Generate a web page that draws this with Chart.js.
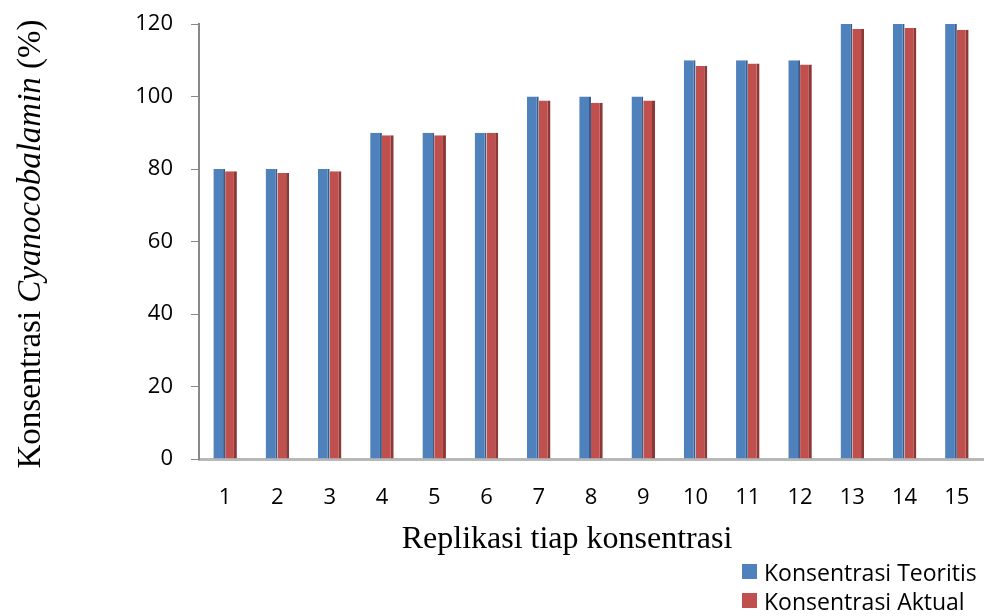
<!DOCTYPE html>
<html>
<head>
<meta charset="utf-8">
<script src="https://cdn.jsdelivr.net/npm/chart.js@4.4.1/dist/chart.umd.min.js"></script>
<style>
  html, body { margin: 0; padding: 0; background: #fff; }
  #wrap { position: relative; width: 985px; height: 616px; }
  #legend { position: absolute; left: 742px; top: 557px; font-family: "Open Sans", sans-serif; font-size: 23px; color: #000; }
  #legend div { display: flex; align-items: center; height: 29px; }
  #legend span.box { width: 15px; height: 15px; margin-right: 7px; display: inline-block; }
</style>
</head>
<body>
<div id="wrap">
  <canvas id="chart" width="985" height="616"></canvas>
  <div id="legend"></div>
</div>
<script>
// Replicates 1..15 and the two concentration series (%)
const replikasi = ["1", "2", "3", "4", "5", "6", "7", "8", "9", "10", "11", "12", "13", "14", "15"];
const teoritis = [80, 80, 80, 90, 90, 90, 100, 100, 100, 110, 110, 110, 120, 120, 120];
const aktual = [79.4, 78.9, 79.4, 89.3, 89.3, 90, 98.9, 98.3, 98.9, 108.4, 109.1, 108.8, 118.6, 118.9, 118.4];
const yTicks = [0, 20, 40, 60, 80, 100, 120];

const ctx = document.getElementById("chart");

// Axis titles in a serif face; the species name is set in italics
const axisTitles = {
  id: "axisTitles",
  afterDraw(chart) {
    const c = chart.ctx;
    const parts = [
      { text: "Konsentrasi ", font: "33px 'Liberation Serif'" },
      { text: "Cyanocobalamin", font: "italic 33px 'Liberation Serif'" },
      { text: " (%)", font: "33px 'Liberation Serif'" }
    ];
    let total = 0;
    parts.forEach(p => { c.font = p.font; p.w = c.measureText(p.text).width; total += p.w; });
    c.save();
    c.fillStyle = "#000";
    c.textBaseline = "middle";
    c.translate(31, 244);
    c.rotate(-Math.PI / 2);
    let x = -total / 2;
    parts.forEach(p => { c.font = p.font; c.fillText(p.text, x, 0); x += p.w; });
    c.restore();

    c.save();
    c.fillStyle = "#000";
    c.font = "32px 'Liberation Serif'";
    c.textAlign = "center";
    c.textBaseline = "alphabetic";
    c.fillText("Replikasi tiap konsentrasi", 567, 548);
    c.restore();
  }
};

const chart = new Chart(ctx, {
  type: "bar",
  data: {
    labels: replikasi,
    datasets: [
      {
        label: "Konsentrasi Teoritis",
        data: teoritis,
        backgroundColor: "#4F81BD",
        borderColor: "#385d8a",
        borderWidth: { top: 0, left: 0, bottom: 0, right: 2 },
        borderSkipped: false
      },
      {
        label: "Konsentrasi Aktual",
        data: aktual,
        backgroundColor: "#C0504D",
        borderColor: "#8c3836",
        borderWidth: { top: 0, left: 0, bottom: 0, right: 3 },
        borderSkipped: false
      }
    ]
  },
  options: {
    responsive: false,
    animation: false,
    layout: { padding: { top: 24, right: 2, bottom: 57, left: 0 } },
    datasets: { bar: { barPercentage: 1, categoryPercentage: 0.45 } },
    plugins: { legend: { display: false }, tooltip: { enabled: false } },
    scales: {
      x: {
        grid: { display: false },
        border: { display: true, color: "#b8b8b8", width: 3 },
        ticks: { color: "#000", font: { family: "Open Sans", size: 22 }, padding: 18, maxRotation: 0 },
        afterFit(scale) { scale.height = 100; scale.paddingLeft = 0; scale.paddingRight = 0; }
      },
      y: {
        min: 0,
        max: 120,
        afterBuildTicks(scale) { scale.ticks = yTicks.map(v => ({ value: v })); },
        grid: { drawOnChartArea: false, drawTicks: true, tickLength: 8, color: "#888" },
        border: { display: true, color: "#888", width: 2 },
        ticks: { color: "#000", font: { family: "Open Sans", size: 22 }, padding: 18 },
        afterFit(scale) { scale.width = 199; scale.paddingTop = 0; scale.paddingBottom = 0; }
      }
    }
  },
  plugins: [axisTitles]
});

// Legend stacked in the lower right corner
const legend = document.getElementById("legend");
chart.data.datasets.forEach(ds => {
  const row = document.createElement("div");
  const box = document.createElement("span");
  box.className = "box";
  box.style.background = ds.backgroundColor;
  row.appendChild(box);
  row.appendChild(document.createTextNode(ds.label));
  legend.appendChild(row);
});
</script>
</body>
</html>
